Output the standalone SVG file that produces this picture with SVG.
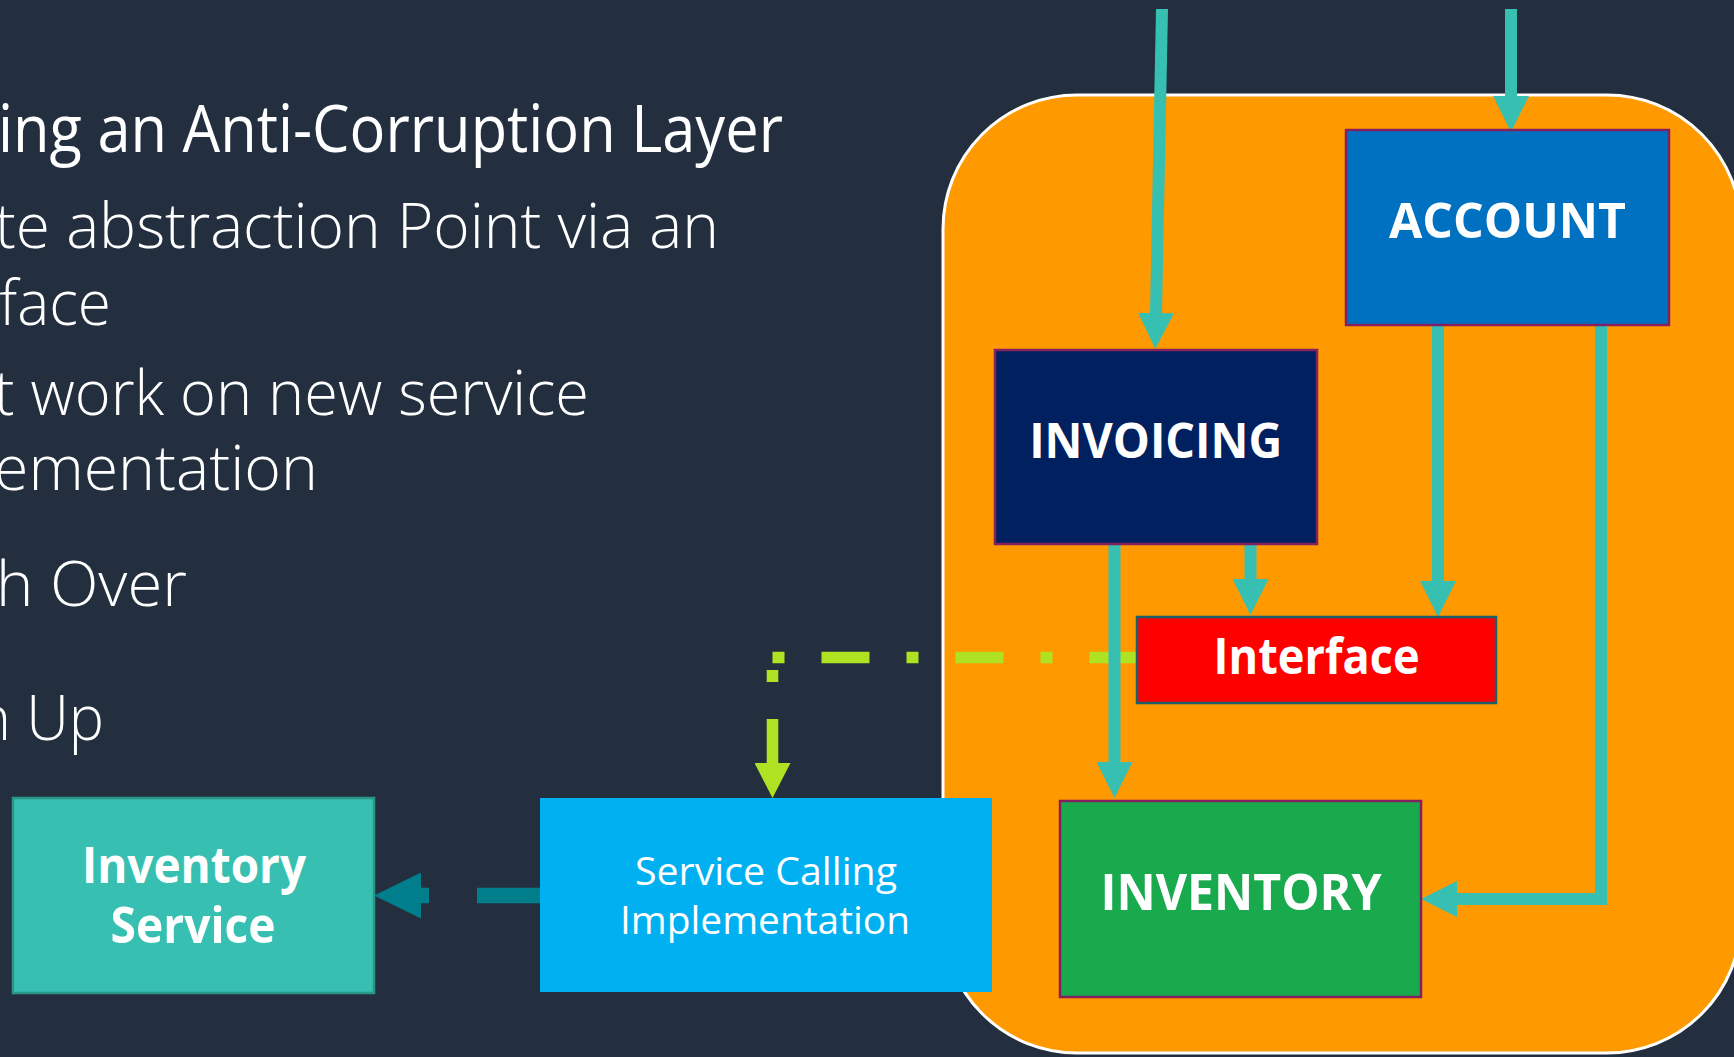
<svg xmlns="http://www.w3.org/2000/svg" width="1734" height="1057" viewBox="0 0 1734 1057">
  <style>
    .bullet { font-family: "Open Sans", "Liberation Sans", sans-serif; font-weight: 300; fill: #ffffff; }
    .title { font-family: "Open Sans", "Liberation Sans", sans-serif; font-weight: 400; fill: #ffffff; }
    .label { font-family: "Open Sans", "Liberation Sans", sans-serif; font-weight: 700; fill: #ffffff; text-anchor: middle; }
    .label-light { font-family: "Open Sans", "Liberation Sans", sans-serif; font-weight: 400; fill: #ffffff; text-anchor: middle; }
    .flow { fill: none; stroke: #37C0B2; stroke-width: 12; }
    .box-mag { stroke: #84205F; stroke-width: 2.5; }
  </style>
  <defs>
    <marker id="head-teal" markerUnits="userSpaceOnUse" markerWidth="36" markerHeight="36" refX="0" refY="18" orient="auto">
      <path d="M0,0 L36,18 L0,36 Z" fill="#37C0B2"/>
    </marker>
    <marker id="head-lime" markerUnits="userSpaceOnUse" markerWidth="36" markerHeight="36" refX="0" refY="18" orient="auto">
      <path d="M0,0 L35,18 L0,36 Z" fill="#AEE223"/>
    </marker>
    <marker id="head-dark" markerUnits="userSpaceOnUse" markerWidth="48" markerHeight="46" refX="0" refY="23" orient="auto">
      <path d="M0,0 L47,23 L0,46 Z" fill="#007E8C"/>
    </marker>
  </defs>

  <!-- slide background -->
  <rect x="0" y="0" width="1734" height="1057" fill="#232F3E"/>

  <!-- bullet text (runs off the left edge) -->
  <g id="slide-text">
    <text class="title" x="783" y="152" font-size="66" text-anchor="end" textLength="785" lengthAdjust="spacingAndGlyphs">ing an Anti-Corruption Layer</text>
    <text class="bullet" x="719" y="248" font-size="62" text-anchor="end" textLength="724" lengthAdjust="spacingAndGlyphs">te abstraction Point via an</text>
    <text class="bullet" x="111" y="325" font-size="62" text-anchor="end" textLength="112" lengthAdjust="spacingAndGlyphs">face</text>
    <text class="bullet" x="589" y="415" font-size="62" text-anchor="end" textLength="595" lengthAdjust="spacingAndGlyphs">t work on new service</text>
    <text class="bullet" x="318" y="490" font-size="62" text-anchor="end" textLength="324" lengthAdjust="spacingAndGlyphs">ementation</text>
    <text class="bullet" x="187" y="606" font-size="62" text-anchor="end" textLength="191" lengthAdjust="spacingAndGlyphs">h Over</text>
    <text class="bullet" x="104" y="740" font-size="62" text-anchor="end" textLength="128" lengthAdjust="spacingAndGlyphs">n Up</text>
  </g>

  <!-- monolith container -->
  <g id="monolith">
    <rect x="943" y="95" width="798" height="958" rx="134" ry="134" fill="#FF9900" stroke="#ffffff" stroke-width="3"/>
  </g>

  <!-- connectors -->
  <g id="connectors">
    <!-- dash-dot link from Interface to the calling implementation -->
    <path d="M1137.5,657.5 H772.5 V763" fill="none" stroke="#AEE223" stroke-width="11.6" stroke-dasharray="48 37 12 37 48 37 12 37 48 37 12 12.5 12 37 60" marker-end="url(#head-lime)"/>
    <path class="flow" d="M1162,9 L1156,313" marker-end="url(#head-teal)"/>
    <path class="flow" d="M1511,9 V96" marker-end="url(#head-teal)"/>
    <path class="flow" d="M1438,325 V581" marker-end="url(#head-teal)"/>
    <path class="flow" d="M1250.5,544 V579" marker-end="url(#head-teal)"/>
    <path class="flow" d="M1114.5,544 V762" marker-end="url(#head-teal)"/>
    <path class="flow" d="M1601,325 V899 H1457" marker-end="url(#head-teal)"/>
    <!-- dashed call out to the external service -->
    <path d="M541,895.5 H421" fill="none" stroke="#007E8C" stroke-width="15.6" stroke-dasharray="64 48" marker-end="url(#head-dark)"/>
  </g>

  <g id="account">
    <rect class="box-mag" x="1346" y="130" width="323" height="195" fill="#0070C0"/>
    <text class="label" x="1507.5" y="238" font-size="48" textLength="237" lengthAdjust="spacingAndGlyphs">ACCOUNT</text>
  </g>

  <g id="invoicing">
    <rect class="box-mag" x="995" y="350" width="322" height="194" fill="#002060"/>
    <text class="label" x="1155.7" y="457.5" font-size="48" textLength="253" lengthAdjust="spacingAndGlyphs">INVOICING</text>
  </g>

  <g id="interface">
    <rect x="1137" y="617" width="359" height="86" fill="#FF0000" stroke="#1D5E6B" stroke-width="2.5"/>
    <text class="label" x="1316.6" y="673.5" font-size="51" textLength="206" lengthAdjust="spacingAndGlyphs">Interface</text>
  </g>

  <g id="inventory">
    <rect class="box-mag" x="1060" y="801" width="361" height="196" fill="#19AA4E"/>
    <text class="label" x="1241" y="909.5" font-size="50" textLength="281" lengthAdjust="spacingAndGlyphs">INVENTORY</text>
  </g>

  <g id="service-calling">
    <rect x="540" y="798" width="452" height="194" fill="#00B0F0"/>
    <text class="label-light" x="766" y="885" font-size="38" textLength="262" lengthAdjust="spacingAndGlyphs">Service Calling</text>
    <text class="label-light" x="765" y="933.5" font-size="38" textLength="290" lengthAdjust="spacingAndGlyphs">Implementation</text>
  </g>

  <g id="inventory-service">
    <rect x="13" y="798" width="361" height="195" fill="#37C0B2" stroke="#2A9686" stroke-width="2.5"/>
    <text class="label" x="194" y="883" font-size="50" textLength="224" lengthAdjust="spacingAndGlyphs">Inventory</text>
    <text class="label" x="193" y="943" font-size="50" textLength="165" lengthAdjust="spacingAndGlyphs">Service</text>
  </g>
</svg>
